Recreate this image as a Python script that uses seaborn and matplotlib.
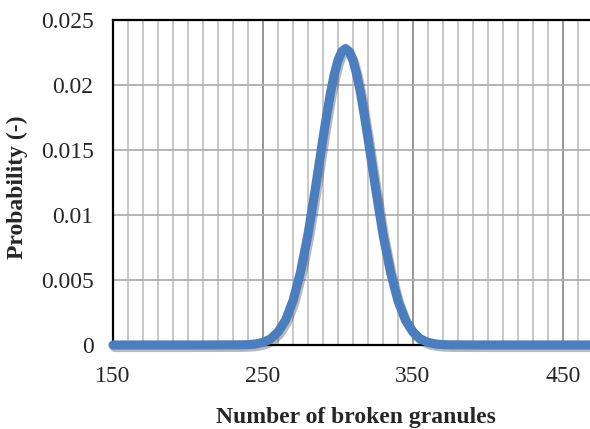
import numpy as np
import seaborn as sns
import matplotlib.pyplot as plt
import matplotlib.patheffects as pe
from matplotlib.ticker import MultipleLocator

# values
granules = [150, 200, 235, 240, 245, 250, 255, 260, 265, 270, 275, 280, 285, 290,
            292.5, 295, 297.5, 300, 302.5, 305, 307.5, 310, 312.5, 315, 317.5, 320,
            325, 330, 335, 340, 345, 350, 355, 360, 365, 370, 375, 400, 450, 500]
probability = [0, 0, 0.00001, 0.00003, 0.00008, 0.0002, 0.00046, 0.0010, 0.0019,
               0.0034, 0.0056, 0.0085, 0.0121, 0.0159, 0.0177, 0.0194, 0.0208,
               0.0219, 0.02257, 0.0228, 0.02257, 0.0219, 0.0208, 0.0194, 0.0177,
               0.0159, 0.0121, 0.0085, 0.0056, 0.0034, 0.0019, 0.0010, 0.00046,
               0.0002, 0.00008, 0.00003, 0.00001, 0, 0, 0]
xticks = [150, 250, 350, 450]
yticks = [0, 0.005, 0.01, 0.015, 0.02, 0.025]
ytick_labels = ["0", "0.005", "0.01", "0.015", "0.02", "0.025"]

sns.set_style("white")
plt.rcParams["font.family"] = ["Liberation Serif", "DejaVu Serif"]

fig = plt.figure(figsize=(5.9, 4.29), dpi=100)
ax = fig.add_axes([113 / 590, 84 / 429, 525 / 590, 325 / 429])

sns.lineplot(x=granules, y=probability, ax=ax, color="#4A7EBF", lw=6.6,
             solid_capstyle="round", solid_joinstyle="round", zorder=5, clip_on=False,
             path_effects=[pe.SimpleLineShadow(offset=(1.2, -1.8), shadow_color="0.1", alpha=0.3),
                           pe.Normal()])

ax.set_xlim(150, 500)
ax.set_ylim(0, 0.025)
ax.set_xticks(xticks)
ax.set_xticklabels([str(t) for t in xticks])
ax.xaxis.set_minor_locator(MultipleLocator(10))
ax.set_yticks(yticks)
ax.set_yticklabels(ytick_labels)
ax.tick_params(which="both", length=0, labelsize=17)
ax.tick_params(axis="x", pad=15)
ax.tick_params(axis="y", pad=14)

ax.grid(which="minor", axis="x", color="#c4c4c4", lw=1.3)
ax.grid(which="major", axis="x", color="#8e8e8e", lw=1.3)
ax.grid(which="major", axis="y", color="#b0b0b0", lw=1.3)
ax.set_axisbelow(True)

for side in ["left", "top", "bottom"]:
    ax.spines[side].set_color("black")
    ax.spines[side].set_linewidth(1.6)
ax.spines["right"].set_visible(False)

ax.set_xlabel("Number of broken granules", fontsize=17, fontweight="bold")
ax.set_ylabel("Probability (-)", fontsize=17, fontweight="bold")
ax.xaxis.set_label_coords(0.463, -0.19)
ax.yaxis.set_label_coords(-0.162, 0.486)

fig.savefig("out.png", dpi=100)
